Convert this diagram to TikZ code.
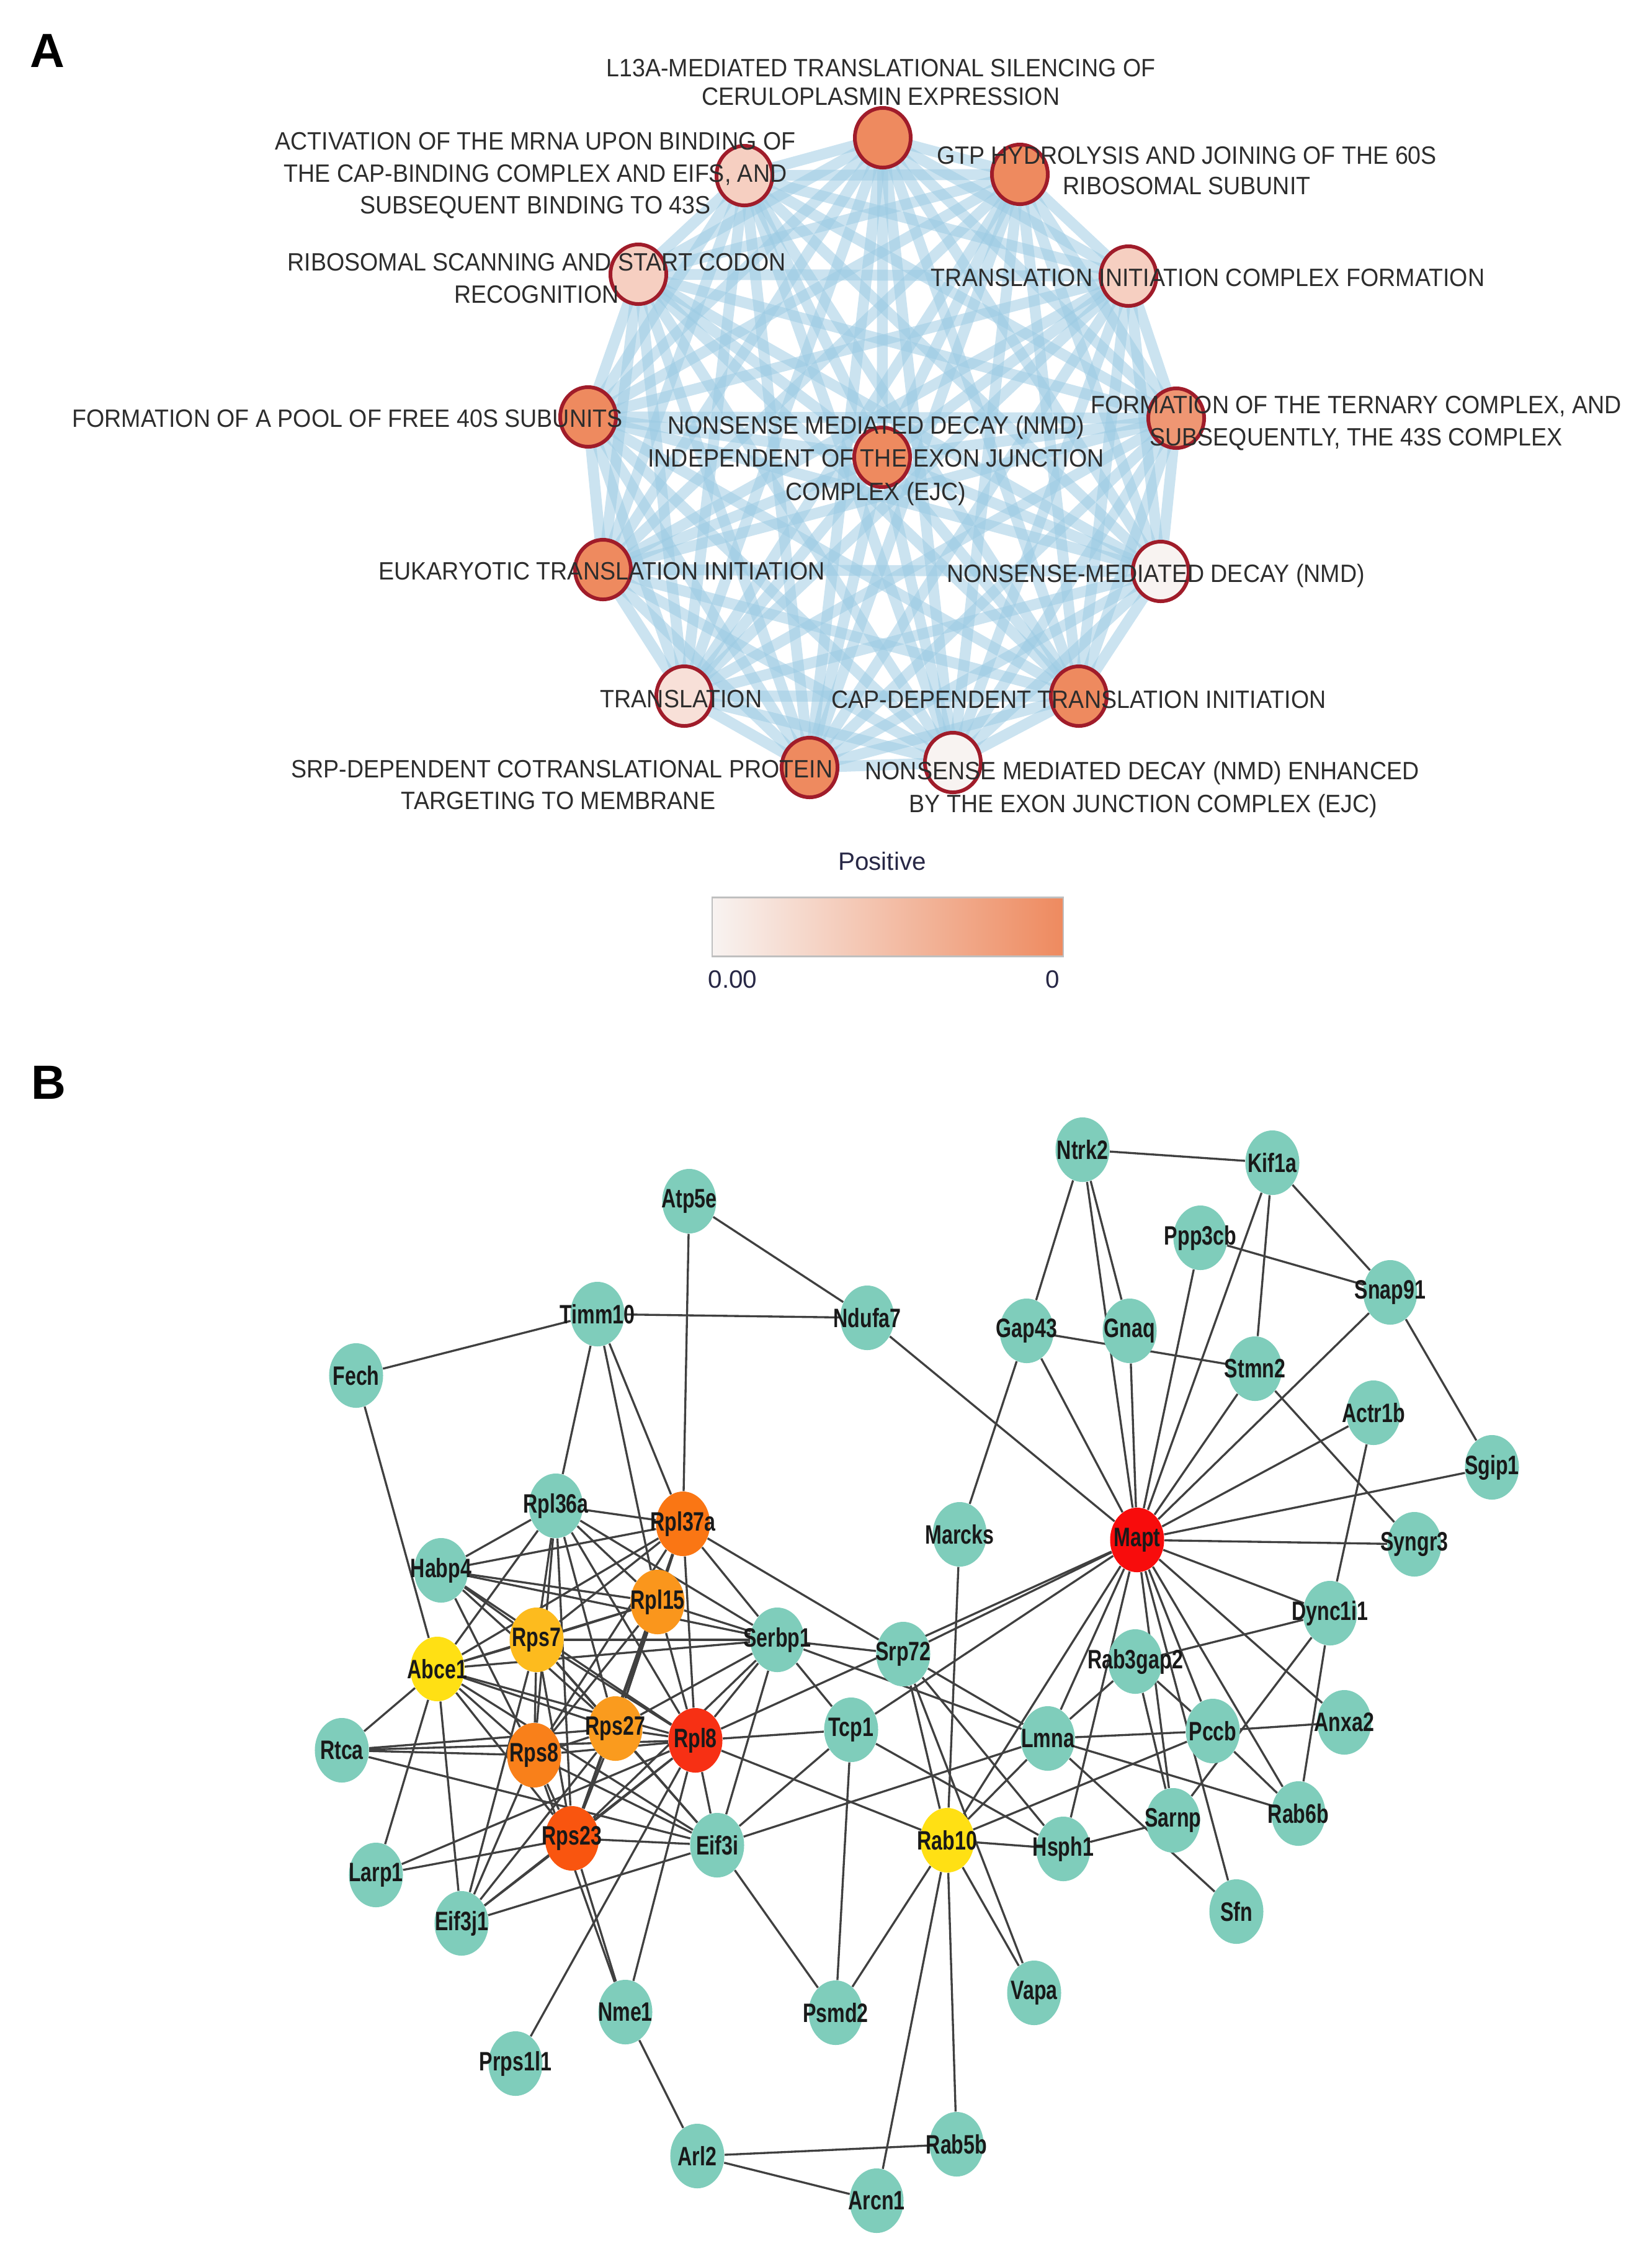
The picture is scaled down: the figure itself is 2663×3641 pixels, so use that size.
\documentclass[tikz,border=0pt]{standalone}
\usepackage{fontspec}
\setmainfont{Liberation Sans}
\newfontfamily\fA[FakeStretch=0.93]{Liberation Sans}
\newfontfamily\fB[FakeStretch=0.75]{Liberation Sans}
\usetikzlibrary{shapes.geometric}
\pgfdeclarelayer{edges}
\pgfsetlayers{edges,main}
\definecolor{edgeA}{RGB}{155,202,227}
\definecolor{rimA}{RGB}{160,28,42}
\definecolor{orA}{RGB}{238,138,95}
\definecolor{orB}{RGB}{239,150,115}
\definecolor{pkA}{RGB}{246,207,193}
\definecolor{ltA}{RGB}{248,224,216}
\definecolor{whA}{RGB}{248,243,241}
\definecolor{txA}{RGB}{45,45,45}
\definecolor{txN}{RGB}{40,40,70}
\definecolor{gteal}{RGB}{127,205,187}
\definecolor{cMapt}{RGB}{248,12,12}
\definecolor{cRpl8}{RGB}{247,48,20}
\definecolor{cRps23}{RGB}{249,85,15}
\definecolor{cRpl37a}{RGB}{250,118,20}
\definecolor{cRps8}{RGB}{249,128,26}
\definecolor{cRpl15}{RGB}{250,150,28}
\definecolor{cRps27}{RGB}{250,155,30}
\definecolor{cRps7}{RGB}{253,187,30}
\definecolor{cYel}{RGB}{255,224,20}
\begin{document}
\begin{tikzpicture}[x=0.01cm,y=-0.01cm,
  pn/.style={ellipse,draw=rimA,line width=1.7pt,minimum width=0.9cm,minimum height=0.96cm,inner sep=0pt},
  alabel/.style={font=\fA\fontsize{11.5}{14}\selectfont,text=txA,inner sep=0pt,anchor=base},
  aedge/.style={draw=edgeA,line width=5pt,opacity=0.52},
  gn/.style={ellipse,minimum width=0.87cm,minimum height=1.04cm,inner sep=0pt},
  gt/.style={font=\fB\bfseries\fontsize{12.2}{14}\selectfont,text=black!90,inner sep=0pt},
  bedge/.style={draw=black!75,line width=0.95pt},
  panel/.style={font=\bfseries\fontsize{22}{24}\selectfont,inner sep=0pt}]
\path[use as bounding box] (0,0) rectangle (2663,3641);

% ---------------- Panel A ----------------
\node[panel] (lblA) at (76,82) {A};
\foreach \i/\px/\py/\col in {1/1423/222/orA,2/1644/281/orA,3/1819/445/pkA,4/1896/674/orB,
  5/1871/921/whA,6/1739/1122/orA,7/1536/1229/whA,8/1305/1237/orA,9/1103/1122/ltA,
  10/972/918/orA,11/948/672/orA,12/1029/442/pkA,13/1200/283/pkA,14/1422/737/orA}
  {\node[pn,fill=\col] (a\i) at (\px,\py) {};}
\begin{pgfonlayer}{edges}
\foreach \i in {1,...,13}{
  \pgfmathtruncatemacro\s{\i+1}
  \foreach \j in {\s,...,14}{\draw[aedge] (a\i.center) -- (a\j.center);}}
\end{pgfonlayer}

\node[alabel] (t1a) at (1420,123) {L13A-MEDIATED TRANSLATIONAL SILENCING OF};
\node[alabel] (t1b) at (1420,169) {CERULOPLASMIN EXPRESSION};
\node[alabel] (t13a) at (863,241) {ACTIVATION OF THE MRNA UPON BINDING OF};
\node[alabel] (t13b) at (863,293) {THE CAP-BINDING COMPLEX AND EIFS, AND};
\node[alabel] (t13c) at (863,344) {SUBSEQUENT BINDING TO 43S};
\node[alabel] (t2a) at (1913,264) {GTP HYDROLYSIS AND JOINING OF THE 60S};
\node[alabel] (t2b) at (1913,313) {RIBOSOMAL SUBUNIT};
\node[alabel] (t12a) at (865,436) {RIBOSOMAL SCANNING AND START CODON};
\node[alabel] (t12b) at (865,488) {RECOGNITION};
\node[alabel] (t3) at (1947,461) {TRANSLATION INITIATION COMPLEX FORMATION};
\node[alabel] (t11) at (560,688) {FORMATION OF A POOL OF FREE 40S SUBUNITS};
\node[alabel] (t4a) at (2186,666) {FORMATION OF THE TERNARY COMPLEX, AND};
\node[alabel] (t4b) at (2186,718) {SUBSEQUENTLY, THE 43S COMPLEX};
\node[alabel] (t14a) at (1412,699) {NONSENSE MEDIATED DECAY (NMD)};
\node[alabel] (t14b) at (1412,752) {INDEPENDENT OF THE EXON JUNCTION};
\node[alabel] (t14c) at (1412,806) {COMPLEX (EJC)};
\node[alabel] (t10) at (970,934) {EUKARYOTIC TRANSLATION INITIATION};
\node[alabel] (t5) at (1863,938) {NONSENSE-MEDIATED DECAY (NMD)};
\node[alabel] (t9) at (1098,1140) {TRANSLATION};
\node[alabel] (t6) at (1739,1141) {CAP-DEPENDENT TRANSLATION INITIATION};
\node[alabel] (t8a) at (906,1253) {SRP-DEPENDENT COTRANSLATIONAL PROTEIN};
\node[alabel] (t8b) at (900,1304) {TARGETING TO MEMBRANE};
\node[alabel] (t7a) at (1841,1256) {NONSENSE MEDIATED DECAY (NMD) ENHANCED};
\node[alabel] (t7b) at (1843,1309) {BY THE EXON JUNCTION COMPLEX (EJC)};

\node[font=\fontsize{11.5}{14}\selectfont,text=txN,inner sep=0pt,anchor=base] (pos) at (1422,1402) {Positive};
\node[draw=black!25,line width=0.6pt,left color=whA,right color=orA,minimum width=5.66cm,minimum height=0.95cm,inner sep=0pt] (legend) at (1431,1494) {};
\node[font=\fontsize{11.5}{14}\selectfont,text=txN,inner sep=0pt,anchor=base] (lo) at (1181,1592) {0.00};
\node[font=\fontsize{11.5}{14}\selectfont,text=txN,inner sep=0pt,anchor=base] (hi) at (1697,1592) {0};

% ---------------- Panel B ----------------
\node[panel] (lblB) at (78,1745) {B};
\foreach \nm/\px/\py/\col in {
 Atp5e/1111/1936/gteal, Timm10/963/2118/gteal, Fech/574/2217/gteal, Ndufa7/1398/2124/gteal,
 Ntrk2/1745/1853/gteal, Kif1a/2051/1874/gteal, Ppp3cb/1935/1995/gteal, Gap43/1655/2145/gteal,
 Gnaq/1821/2145/gteal, Snap91/2241/2083/gteal, Stmn2/2023/2206/gteal, Actr1b/2214/2277/gteal,
 Sgip1/2405/2365/gteal, Marcks/1547/2473/gteal, Mapt/1833/2482/cMapt, Syngr3/2280/2489/gteal,
 Dync1i1/2144/2600/gteal, Rpl36a/896/2427/gteal, Rpl37a/1101/2456/cRpl37a, Habp4/711/2531/gteal,
 Rpl15/1060/2582/cRpl15, Rps7/865/2643/cRps7, Serbp1/1253/2643/gteal, Abce1/705/2690/cYel,
 Srp72/1456/2666/gteal, Rab3gap2/1830/2678/gteal, Rtca/551/2821/gteal, Rps8/861/2829/cRps8,
 Rps27/992/2786/cRps27, Rpl8/1121/2805/cRpl8, Tcp1/1372/2788/gteal, Lmna/1689/2802/gteal,
 Pccb/1955/2790/gteal, Anxa2/2167/2776/gteal, Rps23/922/2963/cRps23, Eif3i/1156/2974/gteal,
 Rab10/1527/2966/cYel, Hsph1/1714/2980/gteal, Sarnp/1891/2934/gteal, Rab6b/2093/2923/gteal,
 Larp1/606/3022/gteal, Eif3j1/744/3100/gteal, Sfn/1993/3081/gteal, Vapa/1667/3212/gteal,
 Nme1/1008/3243/gteal, Psmd2/1347/3244/gteal, Prps1l1/831/3326/gteal, Rab5b/1542/3456/gteal,
 Arl2/1124/3475/gteal, Arcn1/1413/3547/gteal}
 {\node[gn,fill=\col] (\nm) at (\px,\py) {};}
\foreach \nm in {Atp5e,Timm10,Fech,Ndufa7,Ntrk2,Kif1a,Ppp3cb,Gap43,Gnaq,Snap91,Stmn2,Actr1b,
 Sgip1,Marcks,Mapt,Syngr3,Dync1i1,Rpl36a,Rpl37a,Habp4,Rpl15,Rps7,Serbp1,Abce1,Srp72,Rab3gap2,
 Rtca,Rps8,Rps27,Rpl8,Tcp1,Lmna,Pccb,Anxa2,Rps23,Eif3i,Rab10,Hsph1,Sarnp,Rab6b,Larp1,Eif3j1,
 Sfn,Vapa,Nme1,Psmd2,Prps1l1,Rab5b,Arl2,Arcn1}
 {\node[gt] (\nm-t) at (\nm) {\nm};}

\begin{pgfonlayer}{edges}
\foreach \u/\v in {
 Timm10/Fech, Timm10/Ndufa7, Timm10/Rpl36a, Timm10/Rpl37a, Timm10/Rpl15,
 Atp5e/Ndufa7, Atp5e/Rpl37a, Fech/Abce1, Ndufa7/Mapt,
 Ntrk2/Kif1a, Ntrk2/Gap43, Ntrk2/Gnaq, Ntrk2/Mapt,
 Kif1a/Snap91, Kif1a/Stmn2, Kif1a/Mapt, Ppp3cb/Snap91, Ppp3cb/Mapt,
 Snap91/Mapt, Snap91/Sgip1, Gap43/Stmn2, Gap43/Marcks, Gap43/Mapt, Gnaq/Mapt,
 Stmn2/Mapt, Stmn2/Syngr3, Actr1b/Mapt, Actr1b/Dync1i1, Sgip1/Mapt, Syngr3/Mapt,
 Mapt/Dync1i1, Mapt/Srp72, Mapt/Rpl8, Mapt/Tcp1, Mapt/Rab10, Mapt/Lmna, Mapt/Hsph1,
 Mapt/Sarnp, Mapt/Pccb, Mapt/Sfn, Mapt/Rab6b, Mapt/Anxa2,
 Dync1i1/Rab3gap2, Dync1i1/Sarnp, Dync1i1/Rab6b,
 Pccb/Anxa2, Pccb/Lmna, Pccb/Rab6b, Pccb/Rab10, Rab3gap2/Pccb, Rab3gap2/Sarnp, Rab3gap2/Lmna,
 Lmna/Rab6b, Lmna/Sfn, Lmna/Rab10, Lmna/Srp72, Lmna/Eif3i, Lmna/Serbp1,
 Hsph1/Sarnp, Rab10/Hsph1, Srp72/Rab10, Srp72/Hsph1, Srp72/Vapa, Srp72/Serbp1, Srp72/Rpl37a,
 Marcks/Rab10, Rab10/Vapa, Rab10/Psmd2, Rab10/Rab5b, Rab10/Arcn1, Rab10/Rpl8,
 Tcp1/Psmd2, Tcp1/Rpl8, Tcp1/Hsph1, Tcp1/Eif3i, Tcp1/Serbp1, Psmd2/Eif3i,
 Arl2/Rab5b, Arl2/Arcn1, Nme1/Arl2, Nme1/Rps23, Nme1/Rps8, Nme1/Rpl8, Prps1l1/Rpl8,
 Rpl36a/Rpl37a, Rpl36a/Rpl15, Rpl36a/Rps7, Rpl36a/Rps8, Rpl36a/Rps27, Rpl36a/Rpl8, Rpl36a/Rps23,
 Rpl37a/Rpl15, Rpl37a/Rps7, Rpl37a/Rps8, Rpl37a/Rps27, Rpl37a/Rpl8, Rpl37a/Rps23,
 Rpl15/Rps7, Rpl15/Rps8, Rpl15/Rps27, Rpl15/Rpl8, Rpl15/Rps23,
 Rps7/Rps8, Rps7/Rps27, Rps7/Rpl8, Rps7/Rps23,
 Rps8/Rps27, Rps8/Rpl8, Rps8/Rps23, Rps27/Rpl8, Rps27/Rps23, Rpl8/Rps23,
 Abce1/Rpl36a, Abce1/Rpl37a, Abce1/Rpl15, Abce1/Rps7, Abce1/Rps8, Abce1/Rps27, Abce1/Rpl8,
 Abce1/Rps23, Abce1/Serbp1, Abce1/Eif3i, Abce1/Eif3j1, Abce1/Larp1, Abce1/Rtca,
 Habp4/Rpl36a, Habp4/Rpl37a, Habp4/Rpl15, Habp4/Rps7, Habp4/Rps8, Habp4/Rps27, Habp4/Rpl8, Habp4/Serbp1,
 Serbp1/Rpl36a, Serbp1/Rpl37a, Serbp1/Rpl15, Serbp1/Rps7, Serbp1/Rps27, Serbp1/Rpl8, Serbp1/Rps23, Serbp1/Eif3i,
 Rtca/Rps8, Rtca/Rps27, Rtca/Rpl8, Rtca/Eif3i, Larp1/Rps23, Larp1/Rpl8,
 Eif3j1/Rps7, Eif3j1/Rps8, Eif3j1/Rps27, Eif3j1/Rpl8, Eif3j1/Rps23, Eif3j1/Eif3i,
 Eif3i/Rps8, Eif3i/Rps27, Eif3i/Rpl8, Eif3i/Rps23, Eif3i/Rps7}
 {\draw[bedge] (\u) -- (\v);}
\end{pgfonlayer}
\end{tikzpicture}
\end{document}
